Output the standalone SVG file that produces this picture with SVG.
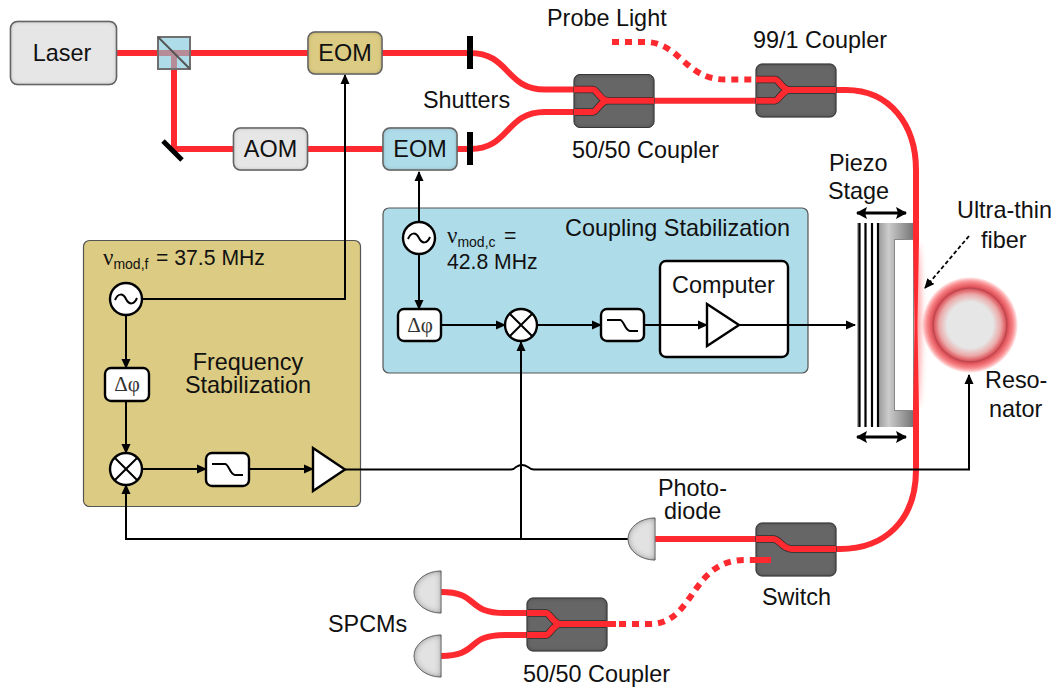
<svg xmlns="http://www.w3.org/2000/svg" width="1053" height="688" viewBox="0 0 1053 688">
<style>
text{font-family:"Liberation Sans",Arial,sans-serif;font-size:23.400px;fill:#111}
.val{font-size:21.200px}
.nu{font-family:"Liberation Serif","Times New Roman",serif;font-size:23px}
.phi{font-family:"Liberation Serif","Times New Roman",serif;font-size:21px;fill:#333;text-anchor:middle}
.sub{font-size:14px}
.fiber{fill:none;stroke:#ff2a2f;stroke-width:6}
.dots{fill:none;stroke:#ff2a2f;stroke-width:6;stroke-dasharray:7 6}
.core{fill:none;stroke:#2d2d2d;stroke-width:7.500}
.sig{fill:none;stroke:#000;stroke-width:2}
.box{fill:#e6e6e6;stroke:#777;stroke-width:1.500;filter:url(#inset)}
.gold{fill:#dccb82}
.blue{fill:#aedce9}
.coupler{fill:#666;stroke:#444;stroke-width:1;filter:url(#inset)}
.panel{stroke:#555;stroke-width:1.200}
.el{fill:#fff;stroke:#000;stroke-width:2.400}
.diode{fill:#e2e2e2;stroke:#888;stroke-width:1;filter:url(#insetd)}
.shut{fill:#000}
</style>
<defs>
<filter id="inset" x="-10%" y="-10%" width="120%" height="120%">
<feFlood flood-color="#000" flood-opacity=".8"/>
<feComposite operator="out" in2="SourceAlpha"/>
<feGaussianBlur stdDeviation="2"/>
<feComposite operator="in" in2="SourceAlpha" result="s"/>
<feMerge><feMergeNode in="SourceGraphic"/><feMergeNode in="s"/></feMerge>
</filter>
<filter id="insetd" x="-20%" y="-20%" width="140%" height="140%">
<feFlood flood-color="#000" flood-opacity=".85"/>
<feComposite operator="out" in2="SourceAlpha"/>
<feGaussianBlur stdDeviation="3"/>
<feComposite operator="in" in2="SourceAlpha" result="s"/>
<feMerge><feMergeNode in="SourceGraphic"/><feMergeNode in="s"/></feMerge>
</filter>
<filter id="blur" x="-300%" y="-20%" width="700%" height="140%"><feGaussianBlur stdDeviation="3.500"/></filter>
<marker id="a" markerUnits="userSpaceOnUse" markerWidth="10" markerHeight="10" refX="9" refY="5" orient="auto-start-reverse" viewBox="0 0 10 10"><path d="M0,0.500 L10,5 L0,9.500 Z" fill="#000"/></marker>
<marker id="b" markerUnits="userSpaceOnUse" markerWidth="12" markerHeight="14" refX="10" refY="7" orient="auto-start-reverse" viewBox="0 0 12 14"><path d="M0,1 L11,7 L0,13 L2,7 Z" fill="#000"/></marker>
<linearGradient id="stage" x1="0" x2="1" y1="0" y2="0"><stop offset="0" stop-color="#999"/><stop offset=".3" stop-color="#ccc"/><stop offset="1" stop-color="#777"/></linearGradient>
<radialGradient id="reso"><stop offset="0" stop-color="#e6e6e6"/><stop offset=".48" stop-color="#e6e6e6"/><stop offset=".64" stop-color="#ecaaaa"/><stop offset=".77" stop-color="#d9464e"/><stop offset=".86" stop-color="#f07478"/><stop offset="1" stop-color="#ff2a2f" stop-opacity="0"/></radialGradient>
</defs>

<g id="frequency-panel"><rect class="panel gold" x="83.500" y="240.500" width="277" height="266" rx="6"/>
<text x="103" y="265"><tspan class="nu">ν</tspan><tspan class="sub" dy="4">mod,f</tspan></text><text class="val" x="156" y="265">= 37.5 MHz</text>
<text x="248" y="370" text-anchor="middle">Frequency</text><text x="248" y="393" text-anchor="middle">Stabilization</text></g>
<g id="coupling-panel"><rect class="panel blue" x="383" y="208" width="425" height="165" rx="6"/>
<text x="447" y="243"><tspan class="nu">ν</tspan><tspan class="sub" dy="4">mod,c</tspan></text><text class="val" x="504" y="243">=</text>
<text class="val" x="447" y="269">42.8 MHz</text>
<text x="565" y="236">Coupling Stabilization</text></g>

<g id="connectors">
<path class="fiber" d="M116,53 H308 M174,53 V149 H233 M307,149 H383 M382,53 H470 C510,53 505,89.500 545,89.500 H593 M457,149 H470 C510,149 505,112 545,112 H593 M608,100.700 H775"/>
<path class="fiber" d="M790,90 H846 C890,90 916,125 916,170 V235 M916,415 V470 C916,520 885,549 840,549 H800 M655,539 H775 M441,592 C480,592 465,613 505,613 H560 M441,656 C480,656 465,635 505,635 H560"/>
<path class="dots" d="M612,42 H645 C680,42 685,79.500 725,79.500 H756"/>
<path class="dots" d="M606,624 H650 C695,624 690,560 745,560 H752"/>
<ellipse cx="916" cy="325" rx="4" ry="82" fill="#ff2a2f" opacity=".55" filter="url(#blur)"/>
<path class="sig" d="M142,299 H345 V75" marker-end="url(#a)"/>
<path class="sig" d="M126,315 V368" marker-end="url(#a)"/>
<path class="sig" d="M126,401 V453" marker-end="url(#a)"/>
<path class="sig" d="M142,469 H206" marker-end="url(#a)"/>
<path class="sig" d="M249,469 H313" marker-end="url(#a)"/>
<path class="sig" d="M345,469.500 H511 Q514,469.500 516,467 Q522,463 528,467 Q531,469.500 534,469.500 H969 V375" marker-end="url(#a)"/>
<path class="sig" d="M628,539 H126 V485" marker-end="url(#a)"/>
<path class="sig" d="M521,539 V342" marker-end="url(#a)"/>
<path class="sig" d="M419,222 V172" marker-end="url(#a)"/>
<path class="sig" d="M419,254 V309" marker-end="url(#a)"/>
<path class="sig" d="M441,325 H505" marker-end="url(#a)"/>
<path class="sig" d="M537,325 H601" marker-end="url(#a)"/>
<path class="sig" d="M790,325 H855" marker-end="url(#a)"/>
<path d="M969,236 L925,288" fill="none" stroke="#000" stroke-width="1.800" stroke-dasharray="4 2.500" marker-end="url(#a)"/>
</g>

<g id="laser"><rect class="box" x="10.500" y="21.500" width="106" height="63" rx="7"/><text x="62" y="61" text-anchor="middle">Laser</text></g>
<g id="beam-splitter"><rect x="158" y="37" width="32" height="32" fill="#aedce9"/>
<path d="M158,53 H190 M174,53 V69" fill="none" stroke="#b58c98" stroke-width="6"/>
<rect x="158" y="37" width="32" height="32" fill="none" stroke="#6f6f6f" stroke-width="2"/><path d="M158,37 L190,69" stroke="#555" stroke-width="2"/></g>
<g id="mirror"><path d="M163,141 L182,160" stroke="#000" stroke-width="5"/></g>
<g id="aom"><rect class="box" x="233.500" y="128" width="74" height="42" rx="7"/><text x="270.500" y="157" text-anchor="middle">AOM</text></g>
<g id="eom-f"><rect class="box" style="fill:#dccb82" x="308" y="32" width="74" height="42" rx="7"/><text x="345" y="61" text-anchor="middle">EOM</text></g>
<g id="eom-c"><rect class="box" style="fill:#aedce9" x="383" y="128" width="74" height="42" rx="7"/><text x="420" y="157" text-anchor="middle">EOM</text></g>
<g id="shutters"><rect class="shut" x="467" y="36" width="6" height="33"/><rect class="shut" x="467" y="132" width="6" height="33"/><text x="423" y="108">Shutters</text></g>
<g id="probe-light"><text x="547" y="26">Probe Light</text></g>

<g id="coupler-50-50-top"><rect class="coupler" x="574" y="74.500" width="80" height="53" rx="6"/>
<path class="core" d="M575,89.500 H593 C597,89.500 600,100.700 608,100.700 H653 M575,112 H593 C597,112 600,100.700 608,100.700"/>
<path class="fiber" d="M574,89.500 H593 C597,89.500 600,100.700 608,100.700 H654 M574,112 H593 C597,112 600,100.700 608,100.700"/>
<text x="572" y="158">50/50 Coupler</text></g>
<g id="coupler-99-1"><rect class="coupler" x="756" y="64" width="80" height="53" rx="6"/>
<path class="core" d="M757,79.500 H775 C779,79.500 782,90 790,90 H835 M757,100.700 H775 C779,100.700 782,90 790,90"/>
<path class="fiber" d="M756,79.500 H775 C779,79.500 782,90 790,90 H836 M756,100.700 H775 C779,100.700 782,90 790,90"/>
<text x="753" y="48">99/1 Coupler</text></g>
<g id="switch"><rect class="coupler" x="756" y="523" width="80" height="53" rx="6"/>
<path class="core" d="M757,539 H773 C780,539 782,549 792,549 H835"/>
<path class="fiber" d="M756,539 H773 C780,539 782,549 792,549 H836 M751,560 H771"/>
<text x="762" y="605">Switch</text></g>
<g id="coupler-50-50-bottom"><rect class="coupler" x="527" y="598" width="80" height="53" rx="6"/>
<path class="core" d="M528,613 H546 C550,613 553,624 561,624 H606 M528,635 H546 C550,635 553,624 561,624"/>
<path class="fiber" d="M527,613 H546 C550,613 553,624 561,624 H616 M527,635 H546 C550,635 553,624 561,624"/>
<text x="523" y="682">50/50 Coupler</text></g>
<g id="photodiode"><path class="diode" d="M655,518 A27,21 0 0 0 655,560 Z"/><text x="658" y="496">Photo-</text><text x="664" y="519">diode</text></g>
<g id="spcm-1"><path class="diode" d="M441,571 A27,21 0 0 0 441,613 Z"/></g>
<g id="spcm-2"><path class="diode" d="M441,635 A27,21 0 0 0 441,677 Z"/></g>
<g id="spcm-label"><text x="328" y="632">SPCMs</text></g>

<g id="osc-f"><circle class="el" cx="126" cy="299" r="16"/><path class="sig" d="M115,300 C118,293 123,293 126,299 C129,305 134,305 137,298"/></g>
<g id="phase-f"><rect class="el" x="105" y="368" width="44" height="33" rx="6"/><text class="phi" x="127" y="391">Δφ</text></g>
<g id="mixer-f"><circle class="el" cx="126" cy="469" r="16"/><path class="sig" d="M114.700,457.700 L137.300,480.300 M137.300,457.700 L114.700,480.300"/></g>
<g id="filter-f"><rect class="el" x="206" y="453" width="43" height="33" rx="6"/><path class="sig" d="M212,464 H225 C229,464 230,475 235,475 H243"/></g>
<g id="amp-f"><path class="el" d="M313,448 L345,469.500 L313,491 Z"/></g>

<g id="osc-c"><circle class="el" cx="419" cy="238" r="16"/><path class="sig" d="M408,239 C411,232 416,232 419,238 C422,244 427,244 430,237"/></g>
<g id="phase-c"><rect class="el" x="398" y="309" width="43" height="32" rx="6"/><text class="phi" x="420" y="332">Δφ</text></g>
<g id="mixer-c"><circle class="el" cx="521" cy="325" r="16"/><path class="sig" d="M509.700,313.700 L532.300,336.300 M532.300,313.700 L509.700,336.300"/></g>
<g id="filter-c"><rect class="el" x="601" y="309" width="43" height="32" rx="6"/><path class="sig" d="M607,320 H620 C624,320 625,331 630,331 H638"/></g>
<g id="computer"><rect class="el" x="660" y="261" width="128" height="96" rx="6"/><text x="672" y="293">Computer</text><path class="sig" d="M644,325 H707" marker-end="url(#a)"/><path class="el" d="M707,304 L739,325 L707,346 Z"/><path class="sig" d="M739,325 H790"/></g>

<g id="piezo-stage"><rect x="878" y="223" width="35" height="204" fill="url(#stage)"/><rect x="894.500" y="239.500" width="19" height="171" fill="#fff" stroke="#888" stroke-width="1"/>
<rect x="857" y="223" width="2" height="204" fill="#aaa"/>
<path d="M859.500,223 V427 M865.500,223 V427 M872,223 V427 M878,223 V427" fill="none" stroke="#000" stroke-width="2.200"/>
<path d="M857,213 H906" fill="none" stroke="#000" stroke-width="3" marker-start="url(#b)" marker-end="url(#b)"/>
<path d="M857,437 H906" fill="none" stroke="#000" stroke-width="3" marker-start="url(#b)" marker-end="url(#b)"/>
<path d="M913,228 H919 V240 L917.500,320 V330 L919,410 V422 H913 V410 L914.500,330 V320 L913,240 Z" fill="#ff2a2f"/>
<text x="829" y="171">Piezo</text><text x="828" y="199">Stage</text></g>
<g id="resonator"><circle cx="970" cy="325" r="48" fill="url(#reso)"/><circle cx="970" cy="325" r="37" fill="none" stroke="#b04a52" stroke-width="1"/><text x="985" y="388">Reso-</text><text x="989" y="417">nator</text></g>
<g id="fiber-label"><text x="957" y="218">Ultra-thin</text><text x="981" y="248">fiber</text></g>
</svg>
